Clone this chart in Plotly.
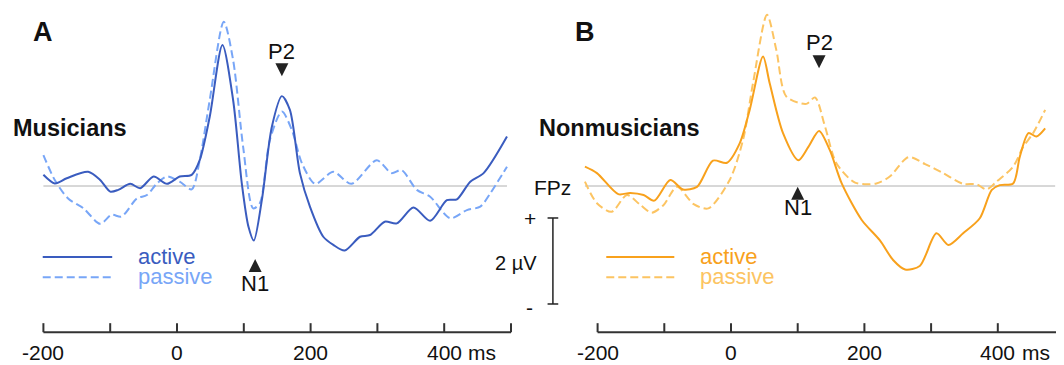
import plotly.graph_objects as go

# ---------------- data (time in ms, amplitude in µV) ----------------
a_active_t = [-200,-183,-165,-133,-115,-100,-88,-70,-55,-35,-15,4,22,34,49,68,84,97,107,115,127,142,157,169,184,199,219,234,251,274,289,311,329,354,379,404,419,439,459,494]
a_active_v = [0.26,0.06,0.18,0.33,0.14,-0.13,-0.09,0.05,-0.05,0.22,0.05,0.22,0.26,0.6,1.61,3.28,2.0,0.06,-0.95,-1.27,-0.33,1.38,2.09,1.77,0.3,-0.48,-1.18,-1.37,-1.5,-1.18,-1.14,-0.83,-0.87,-0.5,-0.81,-0.33,-0.31,0.1,0.3,1.15]

a_passive_t = [-200,-183,-163,-140,-115,-98,-83,-60,-45,-30,-15,4,22,34,49,70,84,99,114,124,139,157,172,187,207,234,261,299,321,336,359,379,409,434,454,469,494]
a_passive_v = [0.72,0.14,-0.29,-0.52,-0.88,-0.67,-0.71,-0.29,-0.21,0.06,0.22,0.1,-0.08,0.6,2.0,3.82,2.93,0.91,-0.52,-0.4,1.07,1.73,1.3,0.53,0.05,0.33,0.05,0.6,0.3,0.37,-0.09,-0.25,-0.75,-0.56,-0.48,-0.17,0.45]

b_active_t = [-219,-201,-169,-151,-131,-115,-91,-72,-51,-27,-6,13,28,48,58,78,101,116,132,148,166,196,223,243,261,283,308,326,348,373,391,403,423,433,446,458,471]
b_active_v = [0.45,0.3,-0.19,-0.16,-0.21,-0.34,0.14,-0.08,-0.02,0.59,0.54,0.99,1.77,3.01,2.39,1.23,0.6,0.91,1.28,0.84,0.06,-0.79,-1.26,-1.72,-1.94,-1.86,-1.1,-1.37,-1.1,-0.75,-0.09,0.02,0.06,0.68,1.23,1.15,1.34]

b_passive_t = [-219,-201,-179,-156,-136,-119,-101,-81,-56,-34,-2,18,33,54,68,83,113,126,141,158,186,218,238,266,291,318,348,368,383,398,423,438,453,471]
b_passive_v = [0.1,-0.4,-0.6,-0.21,-0.44,-0.62,-0.44,-0.02,-0.42,-0.52,0.14,1.07,2.39,3.98,3.16,2.08,1.91,2.06,1.38,0.53,0.08,0.06,0.22,0.67,0.51,0.3,0.05,0.04,-0.08,0.1,0.45,0.91,1.23,1.77]

tick_values = [-200, -100, 0, 100, 200, 300, 400, 500]
tick_labels = {-200: "-200", 0: "0", 200: "200", 400: "400"}
axis_unit = "ms"

# ---------------- style ----------------
C_A_ACT = "#3a5cbf"
C_A_PAS = "#78a6f7"
C_B_ACT = "#f8a11c"
C_B_PAS = "#fcc462"
FONT = "Liberation Sans, Arial, sans-serif"
DASH = "8px,4px"

fig = go.Figure()

def add_curve(t, v, color, dash, xa, ya):
    fig.add_trace(go.Scatter(x=t, y=v, mode="lines", xaxis=xa, yaxis=ya,
                             line=dict(color=color, width=2, dash=dash, shape="spline", smoothing=0.8),
                             hoverinfo="skip", showlegend=False))

# baselines
fig.add_trace(go.Scatter(x=[-200, 494], y=[0, 0], mode="lines", xaxis="x", yaxis="y",
                         line=dict(color="#b0b0b0", width=1), hoverinfo="skip", showlegend=False))
fig.add_trace(go.Scatter(x=[-219, 486], y=[0, 0], mode="lines", xaxis="x2", yaxis="y2",
                         line=dict(color="#b0b0b0", width=1), hoverinfo="skip", showlegend=False))

add_curve(a_passive_t, a_passive_v, C_A_PAS, DASH, "x", "y")
add_curve(a_active_t, a_active_v, C_A_ACT, "solid", "x", "y")
add_curve(b_passive_t, b_passive_v, C_B_PAS, DASH, "x2", "y2")
add_curve(b_active_t, b_active_v, C_B_ACT, "solid", "x2", "y2")

shapes = []
annotations = []
AX_Y = -3.40
TICK_TOP = -3.19
LABEL_Y = -3.88

for xr, yr in (("x", "y"), ("x2", "y2")):
    shapes.append(dict(type="line", xref=xr, yref=yr, x0=-200, x1=500, y0=AX_Y, y1=AX_Y,
                       line=dict(color="#333333", width=2)))
    for tv in tick_values:
        shapes.append(dict(type="line", xref=xr, yref=yr, x0=tv, x1=tv, y0=AX_Y, y1=TICK_TOP,
                           line=dict(color="#333333", width=2)))
    for tv, lab in tick_labels.items():
        annotations.append(dict(x=tv, y=LABEL_Y, xref=xr, yref=yr, text=lab, showarrow=False,
                                xanchor="center", yanchor="middle",
                                font=dict(family=FONT, size=21, color="#111111")))
    annotations.append(dict(x=400, y=LABEL_Y, xref=xr, yref=yr, text=axis_unit, showarrow=False,
                            xanchor="left", yanchor="middle", xshift=22,
                            font=dict(family=FONT, size=21, color="#111111")))

def txt(x, y, xr, yr, s, size, color="#111111", bold=False, anchor="center"):
    annotations.append(dict(x=x, y=y, xref=xr, yref=yr, text=("<b>%s</b>" % s) if bold else s,
                            showarrow=False, xanchor=anchor, yanchor="middle",
                            font=dict(family=FONT, size=size, color=color)))

# panel letters & group labels
txt(-200, 3.58, "x", "y", "A", 27, bold=True)
txt(-219, 3.58, "x2", "y2", "B", 27, bold=True)
txt(-248, 1.35, "x", "y", "Musicians", 23.5, bold=True, anchor="left")
txt(-291, 1.35, "x2", "y2", "Nonmusicians", 23.5, bold=True, anchor="left")

# component labels
txt(156, 3.12, "x", "y", "P2", 22)
txt(117, -2.26, "x", "y", "N1", 22)
txt(132, 3.33, "x2", "y2", "P2", 22)
txt(100, -0.49, "x2", "y2", "N1", 22)

# arrowheads
fig.add_trace(go.Scatter(x=[157], y=[2.55], mode="markers", xaxis="x", yaxis="y",
                         marker=dict(symbol="arrow-down", size=13, color="#222222"), hoverinfo="skip", showlegend=False))
fig.add_trace(go.Scatter(x=[117], y=[-1.70], mode="markers", xaxis="x", yaxis="y",
                         marker=dict(symbol="arrow-up", size=13, color="#222222"), hoverinfo="skip", showlegend=False))
fig.add_trace(go.Scatter(x=[132], y=[2.74], mode="markers", xaxis="x2", yaxis="y2",
                         marker=dict(symbol="arrow-down", size=13, color="#222222"), hoverinfo="skip", showlegend=False))
fig.add_trace(go.Scatter(x=[100], y=[-0.02], mode="markers", xaxis="x2", yaxis="y2",
                         marker=dict(symbol="arrow-up", size=13, color="#222222"), hoverinfo="skip", showlegend=False))

# legends
for xr, yr, x0, x1, c_act, c_pas in (("x", "y", -201, -97, C_A_ACT, C_A_PAS),
                                     ("x2", "y2", -187, -85, C_B_ACT, C_B_PAS)):
    fig.add_trace(go.Scatter(x=[x0, x1], y=[-1.65, -1.65], mode="lines", xaxis=xr, yaxis=yr,
                             line=dict(color=c_act, width=2), hoverinfo="skip", showlegend=False))
    fig.add_trace(go.Scatter(x=[x0, x1], y=[-2.12, -2.12], mode="lines", xaxis=xr, yaxis=yr,
                             line=dict(color=c_pas, width=2, dash=DASH), hoverinfo="skip", showlegend=False))
    txt(x1 + 36, -1.63, xr, yr, "active", 22, color=c_act, anchor="left")
    txt(x1 + 36, -2.10, xr, yr, "passive", 22, color=c_pas, anchor="left")

# scale bar (2 µV) and electrode label
SB_X = -267
shapes.append(dict(type="line", xref="x2", yref="y2", x0=SB_X, x1=SB_X, y0=-0.744, y1=-2.744,
                   line=dict(color="#222222", width=1.5)))
for yy in (-0.744, -2.744):
    shapes.append(dict(type="line", xref="x2", yref="y2", x0=SB_X - 8, x1=SB_X + 8, y0=yy, y1=yy,
                       line=dict(color="#222222", width=1.5)))
# these labels sit left of panel B's range, so they are placed on panel A's axis
txt(528, -0.76, "x", "y", "+", 21)
txt(528, -2.82, "x", "y", "-", 21)
txt(507, -1.79, "x", "y", "2 µV", 20)
txt(SB_X, -0.03, "x2", "y2", "FPz", 21)

# The page body has an 8px default margin, so the figure is 8px smaller than the window
OFF = 8
W, H = 1064 - OFF, 365 - OFF
split = (532 - OFF) / W
fig.update_layout(
    width=W, height=H, margin=dict(l=0, r=0, t=0, b=0),
    paper_bgcolor="white", plot_bgcolor="white",
    shapes=shapes, annotations=annotations,
    xaxis=dict(domain=[0, split], range=[(OFF - 177) / 0.668, (532 - 177) / 0.668], visible=False),
    xaxis2=dict(domain=[split, 1], range=[(532 - 731) / 0.667, (1064 - 731) / 0.667], visible=False),
    yaxis=dict(domain=[0, 1], range=[(186 - 365) / 43, (186 - OFF) / 43], visible=False),
    yaxis2=dict(domain=[0, 1], range=[(186 - 365) / 43, (186 - OFF) / 43], visible=False, anchor="x2"),
)
fig.write_html("out.html")
